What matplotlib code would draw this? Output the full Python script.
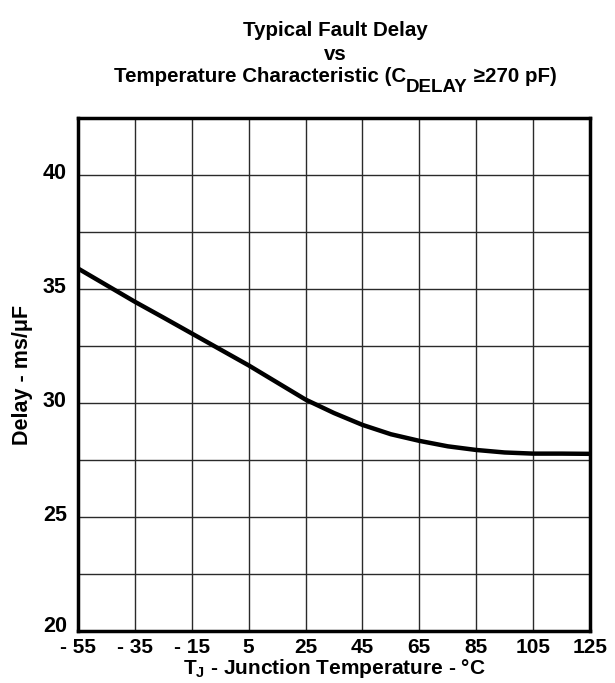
import matplotlib
matplotlib.use("Agg")
import matplotlib.pyplot as plt
import matplotlib.transforms as mtransforms

plt.rcParams['font.family'] = ['Liberation Sans', 'DejaVu Sans']
plt.rcParams['font.weight'] = 'bold'
plt.rcParams['axes.labelweight'] = 'bold'
plt.rcParams['mathtext.fontset'] = 'custom'
plt.rcParams['mathtext.rm'] = 'Liberation Sans:bold'
plt.rcParams['mathtext.bf'] = 'Liberation Sans:bold'
plt.rcParams['mathtext.it'] = 'Liberation Sans:bold'

# junction temperature (°C) and delay (ms/uF)
temp = [-55, -45, -35, -25, -15, -5, 5, 15, 25, 35, 45, 55, 65, 75, 85, 95, 105, 115, 125]
delay = [35.9, 35.17, 34.44, 33.75, 33.05, 32.35, 31.65, 30.9, 30.15, 29.56, 29.04,
         28.63, 28.34, 28.1, 27.94, 27.83, 27.78, 27.78, 27.77]

xticks = [-55, -35, -15, 5, 25, 45, 65, 85, 105, 125]
xlabels = ['- 55', '- 35', '- 15', '5', '25', '45', '65', '85', '105', '125']
yticks = [20, 25, 30, 35, 40]
ygrid = [20, 22.5, 25, 27.5, 30, 32.5, 35, 37.5, 40, 42.5]

W, H = 615, 683
fig = plt.figure(figsize=(W / 100, H / 100), dpi=100)
ax = fig.add_axes([78 / W, 1 - 631 / H, 512 / W, 513 / H])

for g in ygrid:
    ax.axhline(g, color='#2a2a2a', lw=1.0, zorder=1)
for g in xticks:
    ax.axvline(g, color='#2a2a2a', lw=1.0, zorder=1)

ax.plot(temp, delay, color='black', lw=3.2, zorder=3)

ax.set_xlim(-55, 125)
ax.set_ylim(20, 42.5)
ax.set_xticks(xticks)
ax.set_xticklabels(xlabels)
ax.set_yticks(yticks)
ax.tick_params(axis='y', length=0, labelsize=15.5, pad=8)
ax.tick_params(axis='x', length=0, labelsize=15, pad=5)
for s in ax.spines.values():
    s.set_linewidth(2.5)
    s.set_zorder(4)

# y tick labels sit a little above their gridlines, the bottom one more so
for i, lab in enumerate(ax.get_yticklabels()):
    up = 7 if i == 0 else 4
    lab.set_transform(lab.get_transform() +
                      mtransforms.ScaledTranslation(0, up / 100, fig.dpi_scale_trans))

ax.set_xlabel('T$_J$ - Junction Temperature - °C', fontsize=15, labelpad=0)
ax.set_ylabel('Delay - ms/μF', fontsize=15.5, labelpad=7)

# title, three lines
tfs = 14.8
cx = 335
fig.text(cx / W, 1 - 31 / H, 'Typical Fault Delay', ha='center', va='center', fontsize=tfs)
fig.text(cx / W, 1 - 54 / H, 'vs', ha='center', va='center', fontsize=tfs)

# third line: subscript nearly full size, shifted down
pieces = [('Temperature Characteristic (C', 0, tfs), ('DELAY', 10, 13.5), (' ≥270 pF)', 0, tfs)]
r = fig.canvas.get_renderer()
objs = []
for s, dy, fs in pieces:
    t = fig.text(0, 1 - (82 + dy) / H, s, ha='left', va='baseline', fontsize=fs)
    objs.append(t)
widths = [t.get_window_extent(renderer=r).width for t in objs]
x = cx - sum(widths) / 2
for t, w in zip(objs, widths):
    t.set_x(x / W)
    x += w

fig.savefig('out.png', dpi=100)
